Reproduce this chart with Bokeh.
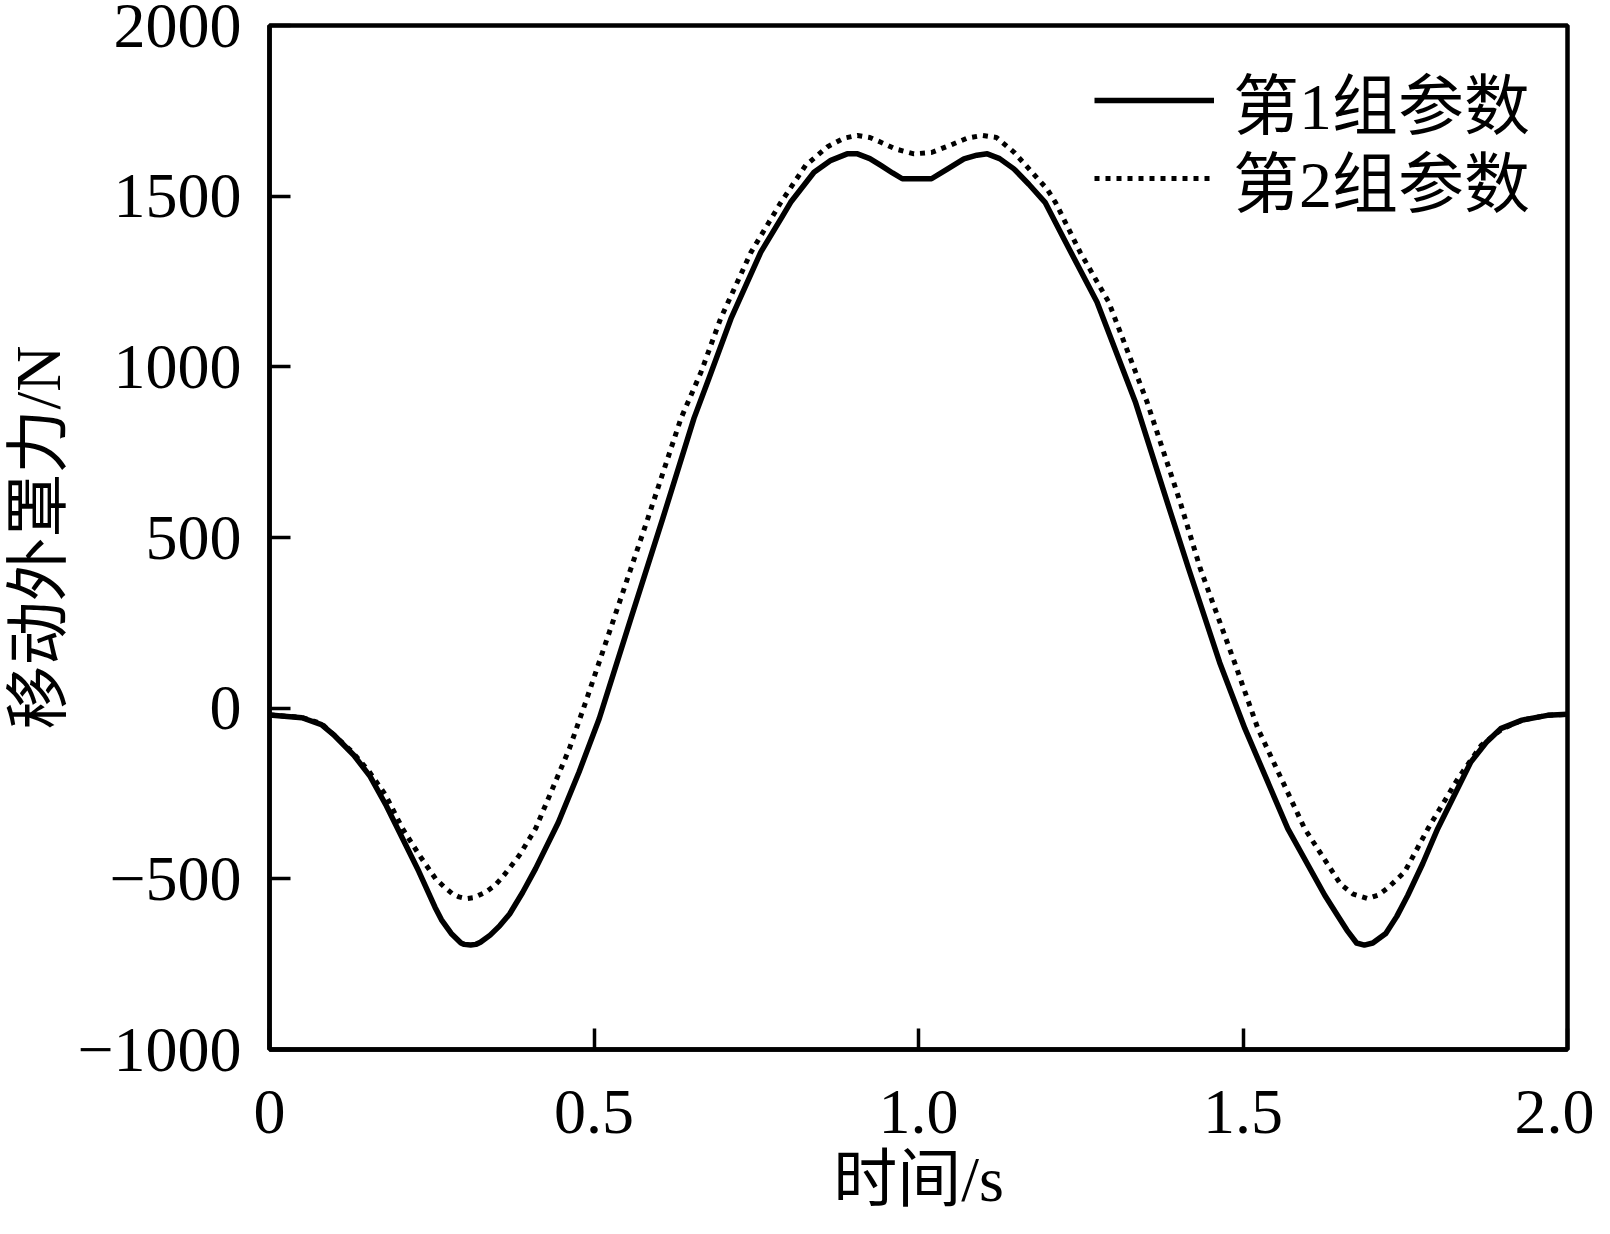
from bokeh.plotting import figure
from bokeh.models import Range1d, FixedTicker, Legend, LegendItem
from bokeh.embed import file_html
from bokeh.resources import INLINE

# ---------------- data ----------------
time_1 = [0.0, 0.05, 0.08, 0.10, 0.13, 0.155, 0.18, 0.205, 0.23, 0.255, 0.265, 0.28,
          0.295, 0.30, 0.31, 0.318, 0.325, 0.34, 0.355, 0.37, 0.39, 0.41, 0.445, 0.477,
          0.508, 0.53, 0.557, 0.606, 0.654, 0.677, 0.711, 0.757, 0.79, 0.803, 0.839,
          0.865, 0.89, 0.906, 0.925, 0.942, 0.96, 0.975, 1.0, 1.02, 1.045, 1.07, 1.09,
          1.106, 1.125, 1.147, 1.17, 1.195, 1.224, 1.275, 1.334, 1.383, 1.416, 1.464,
          1.503, 1.569, 1.626, 1.645, 1.66, 1.675, 1.687, 1.70, 1.72, 1.737, 1.754,
          1.777, 1.80, 1.851, 1.875, 1.897, 1.93, 1.969, 2.0]
force_1 = [-20, -28, -48, -80, -138, -200, -286, -382, -478, -583, -620, -660,
           -688, -692, -694, -692, -686, -665, -637, -603, -540, -470, -335, -187,
           -31, 101, 264, 556, 849, 966, 1141, 1336, 1440, 1482, 1570,
           1605, 1624, 1624, 1610, 1590, 1568, 1551, 1551, 1551, 1580, 1609, 1620,
           1624, 1610, 1580, 1535, 1482, 1375, 1190, 898, 605, 410, 134,
           -60, -353, -548, -605, -650, -688, -694, -688, -660, -610, -548,
           -455, -353, -158, -100, -60, -35, -21, -18]

time_2 = [0.0, 0.05, 0.08, 0.128, 0.154, 0.179, 0.205, 0.231, 0.256, 0.27, 0.282,
          0.292, 0.303, 0.315, 0.333, 0.347, 0.359, 0.385, 0.41, 0.436, 0.462, 0.487,
          0.531, 0.583, 0.634, 0.665, 0.695, 0.742, 0.788, 0.826, 0.86, 0.885, 0.906,
          0.925, 0.942, 0.965, 0.993, 1.02, 1.05, 1.075, 1.098, 1.12, 1.147, 1.175,
          1.198, 1.211, 1.249, 1.293, 1.352, 1.403, 1.434, 1.487, 1.523, 1.595, 1.65,
          1.67, 1.692, 1.708, 1.723, 1.749, 1.785, 1.831, 1.867, 1.90, 1.93, 1.969, 2.0]
force_2 = [-20, -27, -45, -129, -187, -255, -353, -431, -500, -525, -544,
           -553, -558, -555, -539, -520, -495, -431, -353, -236, -119, 17,
           264, 556, 849, 985, 1141, 1336, 1482, 1590, 1645, 1670, 1678,
           1672, 1658, 1638, 1624, 1628, 1650, 1670, 1678, 1672, 1629, 1570,
           1521, 1482, 1336, 1190, 898, 605, 410, 134, -60, -353, -515,
           -545, -558, -548, -527, -480, -353, -207, -109, -60, -35, -21, -18]

series_names = ["第1组参数", "第2组参数"]
x_ticks = [0, 0.5, 1, 1.5, 2]
x_tick_labels = ["0", "0.5", "1.0", "1.5", "2.0"]
y_ticks = [-1000, -500, 0, 500, 1000, 1500, 2000]
y_tick_labels = ["\u22121000", "\u2212500", "0", "500", "1000", "1500", "2000"]
x_title = "时间/s"
y_title = "移动外罩力/N"

# ---------------- figure ----------------
SERIF = "Liberation Serif, Noto Sans CJK SC"

p = figure(width=1594, height=1218, output_backend="svg", toolbar_location=None,
           x_range=Range1d(0, 2), y_range=Range1d(-1000, 2000),
           min_border_left=268, min_border_right=27, min_border_top=25,
           min_border_bottom=169)
p.background_fill_color = "white"
p.border_fill_color = "white"
p.outline_line_color = "black"
p.outline_line_width = 4.5
p.xgrid.visible = False
p.ygrid.visible = False

for ax in (p.xaxis[0], p.yaxis[0]):
    ax.axis_line_width = 4.5
    ax.axis_line_color = "black"
    ax.major_tick_in = 21
    ax.major_tick_out = 0
    ax.major_tick_line_width = 3.5
    ax.major_tick_line_color = "black"
    ax.minor_tick_line_color = None
    ax.major_label_text_font = "Liberation Serif"
    ax.major_label_text_font_size = "64px"
    ax.major_label_text_color = "black"
    ax.axis_label_text_font = SERIF
    ax.axis_label_text_font_size = "64px"
    ax.axis_label_text_font_style = "normal"
    ax.axis_label_text_color = "black"

p.xaxis.ticker = FixedTicker(ticks=x_ticks)
p.xaxis.major_label_overrides = dict(zip(x_ticks, x_tick_labels))
p.xaxis.major_label_standoff = 41
p.xaxis.axis_label = x_title
p.xaxis.axis_label_standoff = 8

p.yaxis.ticker = FixedTicker(ticks=y_ticks)
p.yaxis.major_label_overrides = dict(zip(y_ticks, y_tick_labels))
p.yaxis.major_label_standoff = 28
p.yaxis.axis_label = y_title
p.yaxis.axis_label_standoff = 0

r1 = p.line(time_1, force_1, line_color="black", line_width=5.5, line_join="round")
r2 = p.line(time_2, force_2, line_color="black", line_width=5, line_dash="5 6",
            line_cap="butt")

common = dict(orientation="vertical", glyph_width=120, glyph_height=78,
              label_standoff=19, spacing=0, padding=0, margin=0,
              border_line_color=None, background_fill_alpha=0,
              label_text_font=SERIF, label_text_font_size="66px",
              label_text_color="black")
legend1 = Legend(items=[LegendItem(label=series_names[0], renderers=[r1])],
                 location=(825, 901), **common)
legend2 = Legend(items=[LegendItem(label=series_names[1], renderers=[r2])],
                 location=(825, 823), **common)
p.add_layout(legend1)
p.add_layout(legend2)

open("out.html", "w").write(file_html(p, INLINE))
